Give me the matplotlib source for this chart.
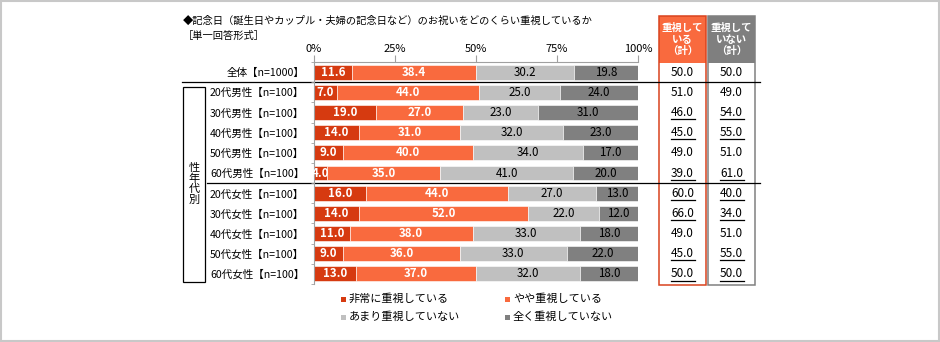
import numpy as np
import matplotlib
matplotlib.use("Agg")
import matplotlib.pyplot as plt
from matplotlib.patches import Rectangle
from matplotlib.transforms import blended_transform_factory

plt.rcParams['font.family'] = ['Noto Sans CJK JP', 'DejaVu Sans']

# データ
categories = ['全体【n=1000】',
              '20代男性【n=100】', '30代男性【n=100】', '40代男性【n=100】',
              '50代男性【n=100】', '60代男性【n=100】',
              '20代女性【n=100】', '30代女性【n=100】', '40代女性【n=100】',
              '50代女性【n=100】', '60代女性【n=100】']
hijou = [11.6, 7.0, 19.0, 14.0, 9.0, 4.0, 16.0, 14.0, 11.0, 9.0, 13.0]
yaya = [38.4, 44.0, 27.0, 31.0, 40.0, 35.0, 44.0, 52.0, 38.0, 36.0, 37.0]
amari = [30.2, 25.0, 23.0, 32.0, 34.0, 41.0, 27.0, 22.0, 33.0, 33.0, 32.0]
mattaku = [19.8, 24.0, 31.0, 23.0, 17.0, 20.0, 13.0, 12.0, 18.0, 22.0, 18.0]
series_names = ['非常に重視している', 'やや重視している', 'あまり重視していない', '全く重視していない']

juushi_kei = [50.0, 51.0, 46.0, 45.0, 49.0, 39.0, 60.0, 66.0, 49.0, 45.0, 50.0]
fujuushi_kei = [50.0, 49.0, 54.0, 55.0, 51.0, 61.0, 40.0, 34.0, 51.0, 55.0, 50.0]
underline_juushi = [False, False, True, True, False, True, True, True, False, True, True]
underline_fujuushi = [False, False, True, True, False, True, True, True, False, True, True]

colors = ['#d63a10', '#f96a3e', '#c0c0c0', '#808080']
label_colors = ['white', 'white', 'black', 'black']
label_weights = ['bold', 'bold', 'normal', 'normal']

W, H = 940, 342
fig = plt.figure(figsize=(W / 100, H / 100), dpi=100)

# 全体用オーバーレイ（ピクセル座標）
ov = fig.add_axes([0, 0, 1, 1])
ov.set_xlim(0, W)
ov.set_ylim(H, 0)
ov.axis('off')

# メインの帯グラフ
ax = fig.add_axes([314 / W, (H - 284) / H, 324 / W, 222 / H])
ax.patch.set_alpha(0)
y = np.arange(len(categories))
left = np.zeros(len(categories))
for vals, c, lc, lw_ in zip([hijou, yaya, amari, mattaku], colors, label_colors, label_weights):
    bars = ax.barh(y, vals, left=left, height=0.74, color=c, edgecolor='white', linewidth=0.4)
    ax.bar_label(bars, labels=[f'{v:.1f}' for v in vals], label_type='center',
                 color=lc, fontsize=8.3, fontweight=lw_)
    left += np.array(vals)

ax.set_xlim(0, 100)
ax.set_ylim(len(categories) - 0.5, -0.5)
ax.xaxis.tick_top()
ax.set_xticks([0, 25, 50, 75, 100], ['0%', '25%', '50%', '75%', '100%'], fontsize=8)
ax.tick_params(axis='x', direction='out', length=5, color='#a0a0a0', pad=1)
ax.set_yticks(y, categories, fontsize=7.6)
ax.tick_params(axis='y', length=0, pad=7)
ax.set_yticks(np.arange(-0.5, len(categories), 1), minor=True)
ax.tick_params(axis='y', which='minor', length=2, color='#a0a0a0')
for s in ['right', 'bottom']:
    ax.spines[s].set_visible(False)
for s in ['top', 'left']:
    ax.spines[s].set_color('#a0a0a0')
    ax.spines[s].set_linewidth(0.8)

# タイトル
ov.text(183, 21, '◆記念日（誕生日やカップル・夫婦の記念日など）のお祝いをどのくらい重視しているか',
        fontsize=7.4, va='center', ha='left')
ov.text(183, 36, '［単一回答形式］', fontsize=7.4, va='center', ha='left')

# 区切り線
tr = blended_transform_factory(ov.transData, ax.transData)
ov.plot([182, 760], [0.5, 0.5], color='black', lw=0.9, transform=tr, clip_on=False)
ov.plot([207, 760], [5.5, 5.5], color='black', lw=0.9, transform=tr, clip_on=False)

# 性年代別ボックス
ov.add_patch(Rectangle((183, 87), 22, 195, fill=False, edgecolor='black', lw=0.9))
ov.text(194, 184, '性\n年\n代\n別', fontsize=8, ha='center', va='center', linespacing=1.05)

# 右側の表
tables = [
    (659, '#f96a3e', '#d9431e', '重視して\nいる\n（計）', juushi_kei, underline_juushi),
    (708, '#7f7f7f', '#808080', '重視して\nいない\n（計）', fujuushi_kei, underline_fujuushi),
]
for x0, head_c, edge_c, head_txt, vals, uls in tables:
    ov.add_patch(Rectangle((x0, 16), 47, 47, facecolor=head_c, edgecolor='none'))
    ov.add_patch(Rectangle((x0, 16), 47, 269, fill=False, edgecolor=edge_c, lw=1.1))
    ov.text(x0 + 23.5, 39.5, head_txt, color='white', fontsize=7.5, fontweight='bold',
            ha='center', va='center', linespacing=1.15)
    for i, (v, u) in enumerate(zip(vals, uls)):
        ov.text(x0 + 23.5, i, f'{v:.1f}', fontsize=8.5, ha='center', va='center', transform=tr)
        if u:
            ov.plot([x0 + 11.5, x0 + 35.5], [i + 0.33, i + 0.33], color='black', lw=0.9,
                    transform=tr, clip_on=False)

# 凡例
leg_pos = [(343, 299), (507, 299), (343, 317), (507, 317)]
for (lx, ly), name, c in zip(leg_pos, series_names, colors):
    ov.add_patch(Rectangle((lx - 2.5, ly - 2.5), 5, 5, facecolor=c, edgecolor='none'))
    ov.text(lx + 6, ly, name, fontsize=8, ha='left', va='center')

# 外枠
ov.add_patch(Rectangle((0.75, 0.75), W - 2, H - 2, fill=False, edgecolor='#c8c8c8', lw=1.5))

plt.savefig('out.png', dpi=100)
